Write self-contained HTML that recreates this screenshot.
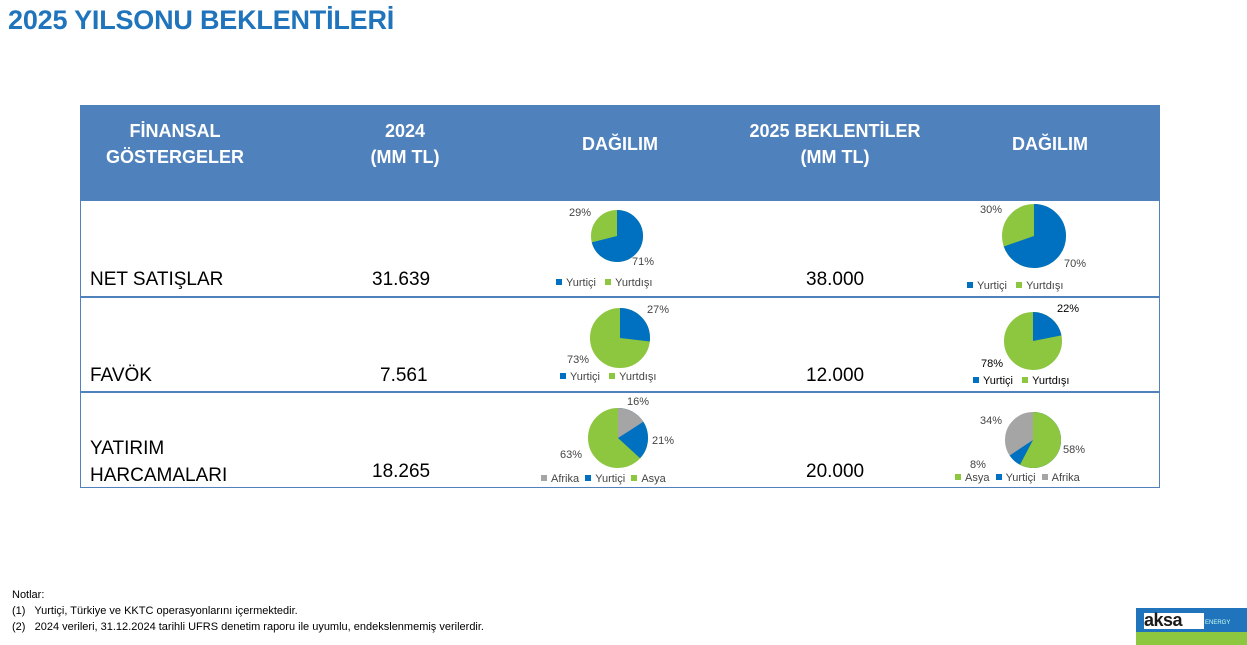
<!DOCTYPE html>
<html><head><meta charset="utf-8"><style>
body{margin:0;width:1247px;height:645px;background:#fff;font-family:"Liberation Sans",sans-serif;position:relative;overflow:hidden}
.a{position:absolute}
h1{position:absolute;left:8px;top:5px;margin:0;font-size:27px;color:#1f74bc;font-weight:bold;letter-spacing:-0.2px}
.hd{position:absolute;color:#fff;font-weight:bold;font-size:18px;text-align:center;line-height:26px}
.v{position:absolute;font-size:19px;color:#000}
.lg{position:absolute;font-size:11px;color:#444;white-space:nowrap}
.sq{display:inline-block;width:6px;height:6px;margin-right:4px;vertical-align:1px}
.p{position:absolute;font-size:11px;color:#444}
.n{position:absolute;font-size:11px;color:#000;left:12px}
</style></head><body>
<h1>2025 YILSONU BEKLENTİLERİ</h1>
<div class="a" style="left:80px;top:105px;width:1080px;height:383px;border:1px solid #4f81bd;box-sizing:border-box"></div>
<div class="a" style="left:80px;top:105px;width:1080px;height:96px;background:#4f81bd"></div>
<div class="a" style="left:80px;top:296px;width:1080px;height:2px;background:#4f81bd"></div>
<div class="a" style="left:80px;top:391px;width:1080px;height:2px;background:#4f81bd"></div>
<div class="hd" style="left:100px;top:118px;width:150px">FİNANSAL<br>GÖSTERGELER</div>
<div class="hd" style="left:330px;top:118px;width:150px">2024<br>(MM TL)</div>
<div class="hd" style="left:540px;top:131px;width:160px">DAĞILIM</div>
<div class="hd" style="left:730px;top:118px;width:210px">2025 BEKLENTİLER<br>(MM TL)</div>
<div class="hd" style="left:970px;top:131px;width:160px">DAĞILIM</div>
<div class="v" style="left:90px;top:269px">NET SATIŞLAR</div>
<div class="v" style="left:372px;top:269px">31.639</div>
<div class="v" style="left:806px;top:269px">38.000</div>
<div class="v" style="left:90px;top:365px">FAVÖK</div>
<div class="v" style="left:380px;top:365px">7.561</div>
<div class="v" style="left:806px;top:365px">12.000</div>
<div class="v" style="left:90px;top:435px;line-height:27px">YATIRIM<br>HARCAMALARI</div>
<div class="v" style="left:372px;top:461px">18.265</div>
<div class="v" style="left:806px;top:461px">20.000</div>
<svg class="a" style="left:0;top:0" width="1247" height="645">
<g transform="translate(617,236) rotate(-90)"><circle r="13" fill="none" stroke="#8dc63f" stroke-width="26"/><circle r="13" fill="none" stroke="#0070c0" stroke-width="26" pathLength="100" stroke-dasharray="71 100"/></g>
<g transform="translate(1034,236) rotate(-90)"><circle r="16" fill="none" stroke="#8dc63f" stroke-width="32"/><circle r="16" fill="none" stroke="#0070c0" stroke-width="32" pathLength="100" stroke-dasharray="70 100"/></g>
<g transform="translate(620,338) rotate(-90)"><circle r="15" fill="none" stroke="#8dc63f" stroke-width="30"/><circle r="15" fill="none" stroke="#0070c0" stroke-width="30" pathLength="100" stroke-dasharray="27 100"/></g>
<g transform="translate(1033,341) rotate(-90)"><circle r="14.5" fill="none" stroke="#8dc63f" stroke-width="29"/><circle r="14.5" fill="none" stroke="#0070c0" stroke-width="29" pathLength="100" stroke-dasharray="22 100"/></g>
<g transform="translate(618,438) rotate(-90)"><circle r="15" fill="none" stroke="#8dc63f" stroke-width="30"/><circle r="15" fill="none" stroke="#0070c0" stroke-width="30" pathLength="100" stroke-dasharray="37 100"/><circle r="15" fill="none" stroke="#a5a5a5" stroke-width="30" pathLength="100" stroke-dasharray="16 100"/></g>
<g transform="translate(1033,440) rotate(-90)"><circle r="14" fill="none" stroke="#a5a5a5" stroke-width="28"/><circle r="14" fill="none" stroke="#0070c0" stroke-width="28" pathLength="100" stroke-dasharray="66 100"/><circle r="14" fill="none" stroke="#8dc63f" stroke-width="28" pathLength="100" stroke-dasharray="58 100"/></g>
</svg>
<div class="p" style="left:569px;top:207px">29%</div><div class="p" style="left:632px;top:256px">71%</div>
<div class="lg" style="left:556px;top:277px"><span class="sq" style="background:#0070c0"></span>Yurtiçi &nbsp; <span class="sq" style="background:#8dc63f"></span>Yurtdışı</div>
<div class="p" style="left:980px;top:204px">30%</div>
<div class="p" style="left:1064px;top:258px">70%</div>
<div class="lg" style="left:967px;top:280px"><span class="sq" style="background:#0070c0"></span>Yurtiçi &nbsp; <span class="sq" style="background:#8dc63f"></span>Yurtdışı</div>
<div class="p" style="left:647px;top:304px">27%</div><div class="p" style="left:567px;top:354px">73%</div>
<div class="lg" style="left:560px;top:371px"><span class="sq" style="background:#0070c0"></span>Yurtiçi &nbsp; <span class="sq" style="background:#8dc63f"></span>Yurtdışı</div>
<div class="p" style="left:1057px;top:303px;color:#000">22%</div><div class="p" style="left:981px;top:358px;color:#000">78%</div>
<div class="lg" style="left:973px;top:375px;color:#000"><span class="sq" style="background:#0070c0"></span>Yurtiçi &nbsp; <span class="sq" style="background:#8dc63f"></span>Yurtdışı</div>
<div class="p" style="left:627px;top:396px">16%</div><div class="p" style="left:652px;top:435px">21%</div><div class="p" style="left:560px;top:449px">63%</div>
<div class="lg" style="left:541px;top:473px"><span class="sq" style="background:#a5a5a5"></span>Afrika &nbsp;<span class="sq" style="background:#0070c0"></span>Yurtiçi &nbsp;<span class="sq" style="background:#8dc63f"></span>Asya</div>
<div class="p" style="left:980px;top:415px">34%</div><div class="p" style="left:1063px;top:444px">58%</div><div class="p" style="left:970px;top:459px">8%</div>
<div class="lg" style="left:955px;top:472px"><span class="sq" style="background:#8dc63f"></span>Asya &nbsp;<span class="sq" style="background:#0070c0"></span>Yurtiçi &nbsp;<span class="sq" style="background:#a5a5a5"></span>Afrika</div>
<div class="n" style="top:589px">Notlar:</div>
<div class="n" style="top:605px">(1)&nbsp;&nbsp; Yurtiçi, Türkiye ve KKTC operasyonlarını içermektedir.</div>
<div class="n" style="top:621px">(2)&nbsp;&nbsp; 2024 verileri, 31.12.2024 tarihli UFRS denetim raporu ile uyumlu, endekslenmemiş verilerdir.</div>
<div class="a" style="left:1136px;top:608px;width:111px;height:24px;background:#1f74bc"></div>
<div class="a" style="left:1136px;top:632px;width:111px;height:13px;background:#8dc63f"></div>
<div class="a" style="left:1144px;top:613px;width:60px;height:16px;background:#fff"></div>
<div class="a" style="left:1144px;top:609px;font-size:18px;font-weight:bold;color:#1a1a1a;letter-spacing:-0.5px;line-height:22px">aksa</div>
<div class="a" style="left:1205px;top:620px;font-size:6px;color:#cfe">ENERGY</div>
</body></html>
